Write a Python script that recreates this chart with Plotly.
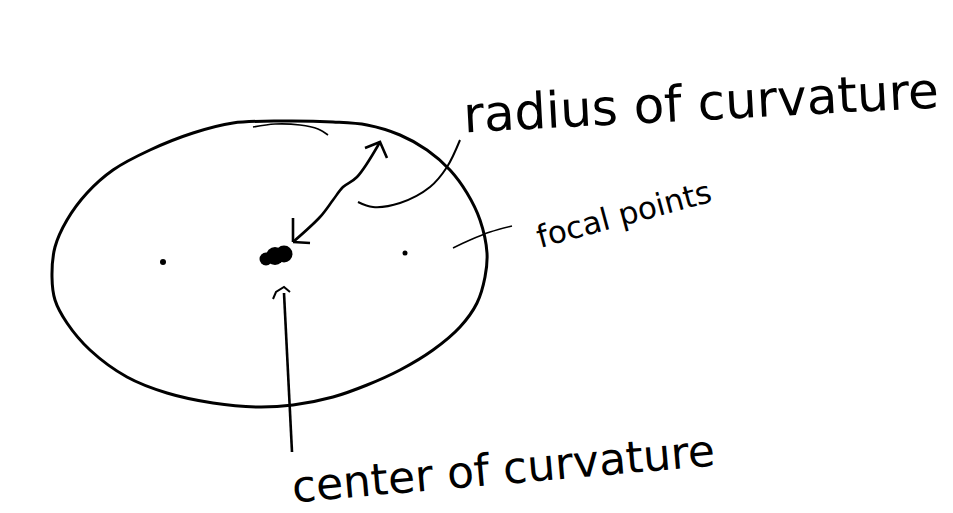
import plotly.graph_objects as go

# Sketch, in pixel units (x right, y down)
ellipse_x = [52, 55, 67, 87, 113, 150, 193, 233, 283, 333, 367, 400, 427, 450, 467, 480,
             487, 485, 477, 460, 433, 400, 367, 333, 293, 257, 213, 167, 127, 90, 67, 55, 52]
ellipse_y = [277, 247, 220, 193, 170, 150, 133, 123, 121, 122, 125, 135, 150, 170, 193, 220,
             253, 277, 303, 327, 350, 370, 385, 397, 405, 407, 403, 393, 377, 350, 323, 300, 277]

# stray stroke near the top of the ellipse
stroke_x = [253, 275, 300, 318, 328]
stroke_y = [127, 124, 125, 129, 135]

# radius arrow (slightly wobbly) and its two heads
radius_x = [293, 320, 333, 343, 357, 380]
radius_y = [242, 217, 200, 187, 177, 142]
head_low_x = [293, 293, None, 293, 310]
head_low_y = [218, 242, None, 242, 243]
head_up_x = [365, 380, 387]
head_up_y = [148, 142, 158]

# center of curvature blob and the two foci
center_x = [266, 275, 284]
center_y = [259, 256, 254]
center_size = [13, 18, 17]
foci_x = [163, 405]
foci_y = [262, 253]
foci_size = [6, 5]

# leader lines
radius_leader_x = [358, 373, 400, 430, 447, 460]
radius_leader_y = [202, 207, 203, 187, 167, 140]
focal_leader_x = [453, 470, 490, 512]
focal_leader_y = [248, 240, 232, 226]
caret_x = [273, 276, 284, 290]
caret_y = [299, 292, 287, 292]
center_leader_x = [284, 292]
center_leader_y = [293, 452]

labels = ["radius of curvature", "focal points", "center of curvature"]
label_x = [701, 624, 503]
label_y = [103, 214, 468]
label_size = [50, 31, 44]
label_angle = [-3, -15, -5]

ink = "black"
fig = go.Figure()

def stroke(xs, ys, width, shape="spline"):
    fig.add_trace(go.Scatter(x=xs, y=ys, mode="lines",
                             line=dict(color=ink, width=width, shape=shape),
                             hoverinfo="skip", showlegend=False))

stroke(ellipse_x, ellipse_y, 3)
stroke(stroke_x, stroke_y, 1.6)
stroke(radius_x, radius_y, 2.6)
stroke(head_low_x, head_low_y, 2.6, "linear")
stroke(head_up_x, head_up_y, 2.6, "linear")
stroke(radius_leader_x, radius_leader_y, 2)
stroke(focal_leader_x, focal_leader_y, 1.5)
stroke(caret_x, caret_y, 2, "linear")
stroke(center_leader_x, center_leader_y, 2.6, "linear")

fig.add_trace(go.Scatter(x=center_x, y=center_y, mode="markers",
                         marker=dict(color=ink, size=center_size, opacity=1, line=dict(width=0)),
                         hoverinfo="skip", showlegend=False))
fig.add_trace(go.Scatter(x=foci_x, y=foci_y, mode="markers",
                         marker=dict(color=ink, size=foci_size, opacity=1, line=dict(width=0)),
                         hoverinfo="skip", showlegend=False))

for txt, x, y, s, a in zip(labels, label_x, label_y, label_size, label_angle):
    fig.add_annotation(x=x, y=y, text=txt, showarrow=False, textangle=a,
                       font=dict(family="DejaVu Sans", size=s, color=ink))

# the page body has an 8px margin, so the figure is 8px smaller and the axes start at 8
fig.update_xaxes(range=[8, 953], visible=False, fixedrange=True)
fig.update_yaxes(range=[513, 8], visible=False, fixedrange=True)
fig.update_layout(width=945, height=505, margin=dict(l=0, r=0, t=0, b=0),
                  paper_bgcolor="white", plot_bgcolor="white")

fig.write_html("out.html")
